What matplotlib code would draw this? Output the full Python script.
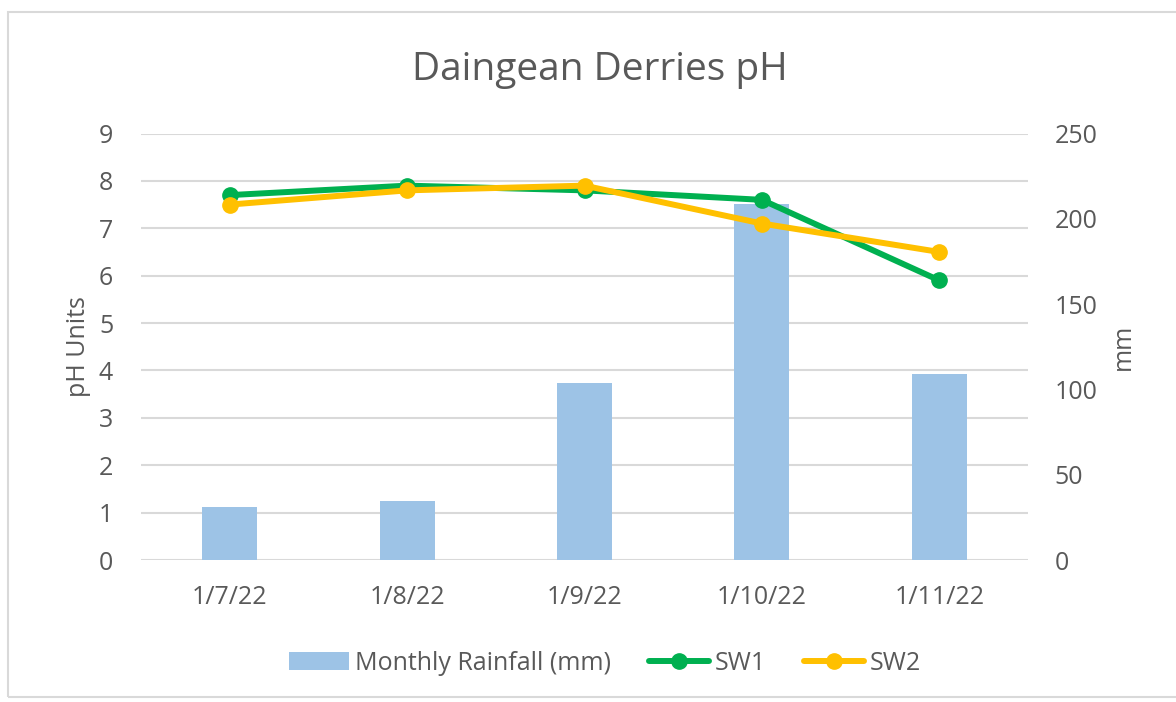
import numpy as np
import matplotlib
matplotlib.use("Agg")
import matplotlib.pyplot as plt
from matplotlib.patches import Rectangle

# data
dates = ["1/7/22", "1/8/22", "1/9/22", "1/10/22", "1/11/22"]
rainfall_mm = [31.3, 34.8, 103.7, 208.4, 109.2]
sw1_ph = [7.7, 7.9, 7.8, 7.6, 5.9]
sw2_ph = [7.5, 7.8, 7.9, 7.1, 6.5]

text_col = "#595959"
grid_col = "#D9D9D9"
bar_col = "#9DC3E6"
green = "#00B050"
yellow = "#FFC000"

plt.rcParams["font.family"] = ["Open Sans", "DejaVu Sans"]

fig = plt.figure(figsize=(11.76, 7.02), dpi=100)
fig.patches.append(Rectangle((8 / 1176, 1 - 697 / 702), 1.2, (697 - 12) / 702,
                             transform=fig.transFigure, fill=False,
                             edgecolor=grid_col, linewidth=1.5))

pos = [141 / 1176, 1 - 560 / 702, (1028 - 141) / 1176, (560 - 133.5) / 702]
ax = fig.add_axes(pos)          # pH axis + gridlines
ax2 = ax.twinx()                # rainfall bars (mm)
ax3 = ax.twinx()                # pH lines on top of the bars

x = np.arange(len(dates))

ax2.bar(x, rainfall_mm, width=0.31, color=bar_col, label="Monthly Rainfall (mm)", zorder=2)
ax3.plot(x, sw1_ph, color=green, lw=4.3, marker="o", ms=11, label="SW1", solid_capstyle="round")
ax3.plot(x, sw2_ph, color=yellow, lw=4.3, marker="o", ms=11, label="SW2", solid_capstyle="round")

for a in (ax, ax3):
    a.set_ylim(0, 9)
ax2.set_ylim(0, 250)
for a in (ax, ax2, ax3):
    a.set_xlim(-0.5, len(dates) - 0.5)
    for s in a.spines.values():
        s.set_visible(False)

ax.set_yticks(range(0, 10))
ax.grid(axis="y", color=grid_col, lw=1.5)
ax.set_axisbelow(True)
ax.set_xticks(x)
ax.set_xticklabels(dates)
ax.tick_params(axis="both", length=0, labelsize=18, colors=text_col)
ax.tick_params(axis="y", pad=20)
ax.tick_params(axis="x", pad=18)

ax2.set_yticks(range(0, 251, 50))
ax2.tick_params(axis="y", length=0, labelsize=18, colors=text_col, pad=19)
ax3.set_yticks([])

ax.set_ylabel("pH Units", fontsize=18, color=text_col, labelpad=6)
ax2.set_ylabel("mm", fontsize=18, color=text_col, labelpad=10)

fig.text(600 / 1176, 1 - 70 / 702, "Daingean Derries pH", fontsize=28,
         color=text_col, ha="center", va="center")

h1, l1 = ax2.get_legend_handles_labels()
h2, l2 = ax3.get_legend_handles_labels()
fig.legend(h1 + h2, l1 + l2, loc="center", bbox_to_anchor=(605 / 1176, 1 - 663 / 702),
           ncol=3, frameon=False, fontsize=18, labelcolor=text_col,
           handlelength=2.4, handletextpad=0.25, columnspacing=1.5)

fig.savefig("out.png", dpi=100)
